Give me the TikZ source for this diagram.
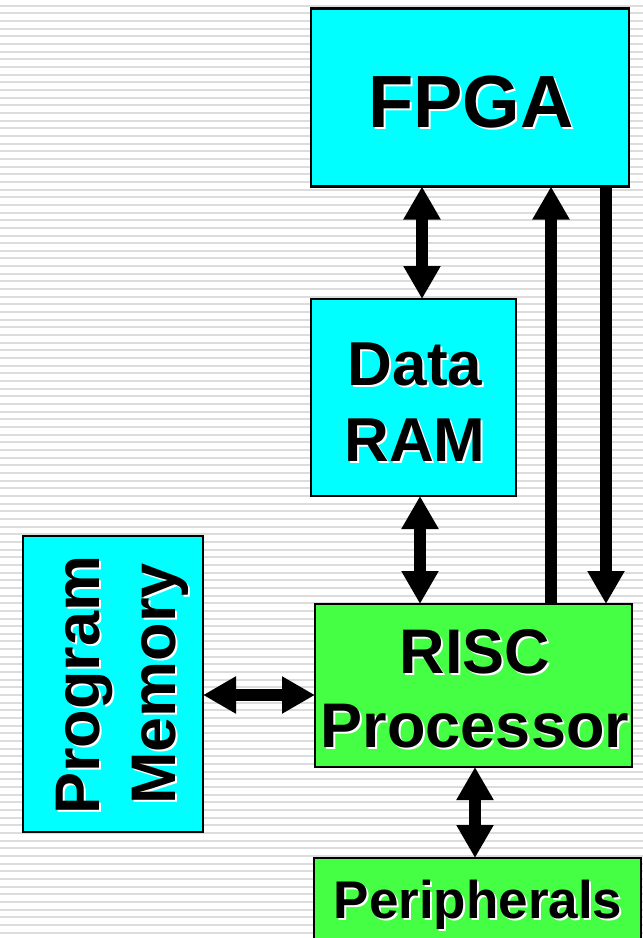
\documentclass[tikz,border=0pt]{standalone}
\usepackage{fontspec}
\setmainfont{Liberation Sans}
\usetikzlibrary{arrows.meta}
\definecolor{cy}{HTML}{00FFFF}
\definecolor{gr}{HTML}{44FF44}
\definecolor{stripe}{HTML}{DCDCDC}
\newcommand{\fs}[1]{\fontsize{#1}{#1}\selectfont\bfseries}
\begin{document}
\begin{tikzpicture}[x=1pt,y=-1pt,
  box/.style={draw=black,line width=2.5pt,inner sep=0pt,outer sep=0pt},
  txt/.style={anchor=base,inner sep=0pt,outer sep=0pt,text=black},
  sh/.style={anchor=base,inner sep=0pt,outer sep=0pt,text=white},
  >={Triangle[length=33pt,width=35pt]},
  conn/.style={line width=11.5pt}
]
\useasboundingbox (0,0) rectangle (643,938);
\clip (0,0) rectangle (643,938);
\fill[white] (0,0) rectangle (643,938);
\foreach \i in {0,...,122}
  \draw[stripe,line width=2pt] (0,5.7+7.66*\i) -- (643,5.7+7.66*\i);

% boxes
\node[box,fill=cy,minimum width=318pt,minimum height=178pt] (fpga) at (470,97.5) {};
\node[box,fill=cy,minimum width=205pt,minimum height=197pt] (ram) at (413.5,397.5) {};
\node[box,fill=cy,minimum width=180pt,minimum height=296pt] (pm) at (113,684) {};
\node[box,fill=gr,minimum width=317pt,minimum height=163pt] (risc) at (473.5,685.5) {};
\node[box,fill=gr,minimum width=327pt,minimum height=102pt] (per) at (477.5,909) {};

% texts with white shadow
\node[sh] (fpgaS) at (473,129) {\fs{74}FPGA};
\node[txt] (fpgaT) at (471,127) {\fs{74}FPGA};
\node[sh] (dataS) at (417,387) {\fs{62}Data};
\node[txt] (dataT) at (415,385) {\fs{62}Data};
\node[sh] (ramS) at (417,463) {\fs{62}RAM};
\node[txt] (ramT) at (415,461) {\fs{62}RAM};
\node[sh] (riscS) at (477,675) {\fs{63}RISC};
\node[txt] (riscT) at (475,673) {\fs{63}RISC};
\node[sh] (procS) at (477,749) {\fs{63}Processor};
\node[txt] (procT) at (475,747) {\fs{63}Processor};
\node[sh] (perS) at (480,920) {\fs{53}Peripherals};
\node[txt] (perT) at (478,918) {\fs{53}Peripherals};
\node[sh,rotate=90] (progS) at (101,687) {\fs{63}Program};
\node[txt,rotate=90] (progT) at (99,685) {\fs{63}Program};
\node[sh,rotate=90] (memS) at (177,686) {\fs{63}Memory};
\node[txt,rotate=90] (memT) at (175,684) {\fs{63}Memory};

% connectors
\coordinate (x1) at (422,0);
\coordinate (x2) at (551,0);
\coordinate (x3) at (606,0);
\coordinate (x4) at (420,0);
\coordinate (x5) at (475,0);
\coordinate (y1) at (0,695);
\draw[conn,<->] (x1 |- fpga.south) -- (x1 |- ram.north);
\draw[conn,->] (x2 |- risc.north) -- (x2 |- fpga.south);
\draw[conn,->] (x3 |- fpga.south) -- (x3 |- risc.north);
\draw[conn,<->] (x4 |- ram.south) -- (x4 |- risc.north);
\draw[conn,<->] (pm.east |- y1) -- (risc.west |- y1);
\draw[conn,<->] (x5 |- risc.south) -- (x5 |- per.north);
\end{tikzpicture}
\end{document}
